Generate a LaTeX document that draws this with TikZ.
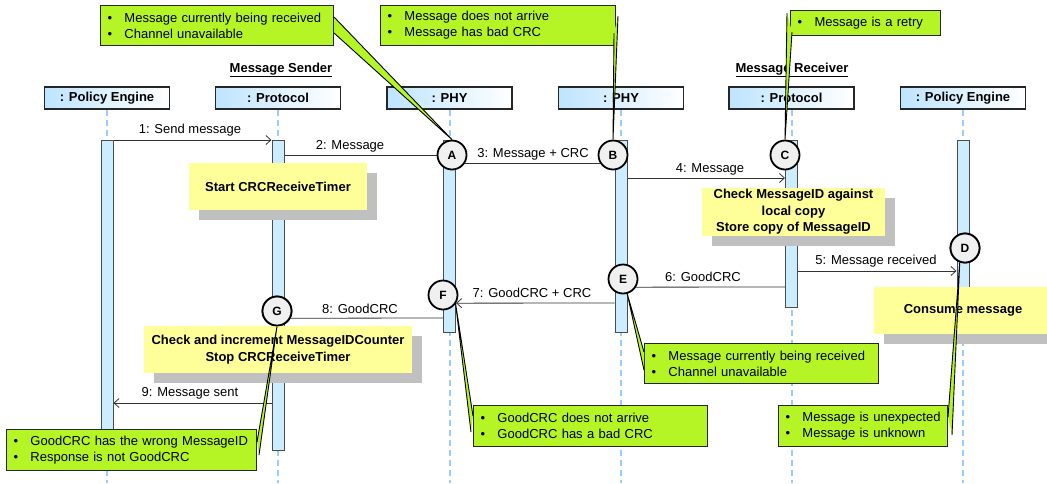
\documentclass[tikz,border=0pt]{standalone}
\usepackage{fontspec}
\setmainfont{Liberation Sans}
\usetikzlibrary{arrows.meta,shadows,calc}
\definecolor{notegreen}{RGB}{181,245,38}
\definecolor{noteyellow}{RGB}{255,255,153}
\definecolor{shadowgray}{RGB}{192,192,192}
\definecolor{barblue}{RGB}{204,236,255}
\definecolor{lifeblue}{RGB}{153,204,255}
\definecolor{hdrblue}{RGB}{190,228,255}
\definecolor{circgray}{RGB}{240,240,240}
\newcommand\gbul{\makebox[17pt][l]{\textbullet}}
\begin{document}
\begin{tikzpicture}[x=1pt,y=-1pt,
  every node/.style={font=\fontsize{13}{16}\selectfont},
  hdr/.style={draw=black!85, line width=1.2pt, left color=hdrblue, right color=white,
    minimum width=125pt, minimum height=22pt, inner sep=0pt,
    font=\bfseries\fontsize{13}{16}\selectfont},
  grouptitle/.style={inner sep=0pt, font=\bfseries\fontsize{13}{16}\selectfont},
  lifeline/.style={lifeblue, line width=2pt, dash pattern=on 6pt off 4pt},
  actbar/.style={draw=black!70, line width=1pt, fill=barblue, minimum width=12pt,
    inner sep=0pt, anchor=north},
  msg/.style={black!80, line width=0.8pt},
  arr/.style={msg, -{Straight Barb[length=5pt,width=9pt]}},
  mlabel/.style={inner sep=0pt},
  ynote/.style={fill=noteyellow, inner sep=0pt, align=center,
    font=\bfseries\fontsize{13}{16.5}\selectfont,
    drop shadow={shadow xshift=10pt, shadow yshift=-10pt, fill=shadowgray, opacity=1}},
  circ/.style={circle, draw=black, line width=1.8pt, fill=circgray, minimum size=29pt,
    inner sep=0pt, font=\bfseries\fontsize{12}{14}\selectfont},
  gnote/.style={draw=black!85, line width=1pt, fill=notegreen, anchor=north west,
    inner xsep=7pt, inner ysep=0pt, align=left},
  pointer/.style={draw=black, line width=0.9pt, line join=miter}
]
\useasboundingbox (0,0) rectangle (1047,483);
\coordinate (bot) at (0,483);

% headers
\node[hdr] (h1) at (107,98) {: Policy Engine};
\node[hdr] (h2) at (278,98) {: Protocol};
\node[hdr] (h3) at (449.5,98) {: PHY};
\node[hdr] (h4) at (621,98) {: PHY};
\node[hdr] (h5) at (791.5,98) {: Protocol};
\node[hdr] (h6) at (963,98) {: Policy Engine};
\node[grouptitle] (ts) at (281,70) {\underline{Message Sender}};
\node[grouptitle] (tr) at (792,70) {\underline{Message Receiver}};

% lifelines
\foreach \h in {h1,h2,h3,h4,h5,h6}
  \draw[lifeline] (\h.south) -- (\h.south |- bot);

% activation bars
\node[actbar, minimum height=300pt] (b1) at (107,140) {};
\node[actbar, minimum height=310pt] (b2) at (278,140) {};
\node[actbar, minimum height=192pt] (b3) at (449.5,140) {};
\node[actbar, minimum height=192pt] (b4) at (621,140) {};
\node[actbar, minimum height=167pt] (b5) at (791.5,140) {};
\node[actbar, minimum height=160pt] (b6) at (963,140) {};

% circles
\node[circ] (A) at (452,155) {A};
\node[circ] (B) at (613,155) {B};
\node[circ] (C) at (785,155) {C};
\node[circ] (D) at (965,248) {D};
\node[circ] (E) at (623,279) {E};
\node[circ] (F) at (443,295) {F};
\node[circ] (G) at (277,311) {G};

% messages
\draw[arr] (b1.north east) -- (b2.north west);
\node[mlabel] (l1) at (190,130) {1: Send message};
\draw[msg] ([yshift=-15pt]b2.north east) -- (A);
\node[mlabel] (l2) at (350,146) {2: Message};
\draw[msg] (A.-32) -- (B.212);
\node[mlabel] (l3) at (533,154) {3: Message + CRC};
\draw[arr] ([yshift=-38pt]b4.north east) -- ([yshift=-38pt]b5.north west);
\node[mlabel] (l4) at (710,169) {4: Message};
\draw[arr] ([yshift=-131pt]b5.north east) -- ([yshift=-131pt]b6.north west);
\node[mlabel] (l5) at (876,261) {5: Message received};
\draw[msg] ([yshift=-147pt]b5.north west) -- (E.-32);
\node[mlabel] (l6) at (703,277) {6: GoodCRC};
\draw[arr] ([yshift=-163pt]b4.north west) -- (F.-32);
\node[mlabel] (l7) at (532,293) {7: GoodCRC + CRC};
\draw[msg] ([yshift=-178pt]b3.north west) -- (G.-28);
\node[mlabel] (l8) at (360,309) {8: GoodCRC};
\draw[arr] ([yshift=-263pt]b2.north west) -- ([yshift=-263pt]b1.north east);
\node[mlabel] (l9) at (190,393) {9: Message sent};

% yellow notes
\node[ynote, minimum width=178pt, minimum height=47pt] (y1) at (278,186.5) {Start CRCReceiveTimer};
\node[ynote, minimum width=183pt, minimum height=48pt] (y2) at (793.5,212) {Check MessageID against\\local copy\\Store copy of MessageID};
\node[ynote, minimum width=178pt, minimum height=47pt] (y3) at (963,310) {Consume message};
\node[ynote, minimum width=268pt, minimum height=47pt] (y4) at (278,349.5) {Check and increment MessageIDCounter\\Stop CRCReceiveTimer};

% circles redrawn on top of notes where needed
\node[circ] at (G) {G};
\node[circ] at (D) {D};

% green notes
\node[gnote, text width=219pt, minimum height=40pt] (g1) at (100,5)
  {\mbox{\gbul Message currently being received}\\\mbox{\gbul Channel unavailable}};
\node[gnote, text width=221pt, minimum height=40pt] (g2) at (380,5)
  {\mbox{\gbul Message does not arrive}\\\mbox{\gbul Message has bad CRC}};
\node[gnote, text width=136pt, minimum height=25pt] (g3) at (790,10)
  {\mbox{\gbul Message is a retry}};
\node[gnote, text width=220pt, minimum height=40pt] (g4) at (644,343)
  {\mbox{\gbul Message currently being received}\\\mbox{\gbul Channel unavailable}};
\node[gnote, text width=220pt, minimum height=41pt] (g5) at (473,405)
  {\mbox{\gbul GoodCRC does not arrive}\\\mbox{\gbul GoodCRC has a bad CRC}};
\node[gnote, text width=236pt, minimum height=41pt] (g6) at (6,429)
  {\mbox{\gbul GoodCRC has the wrong MessageID}\\\mbox{\gbul Response is not GoodCRC}};
\node[gnote, text width=155pt, minimum height=41pt] (g7) at (778,405)
  {\mbox{\gbul Message is unexpected}\\\mbox{\gbul Message is unknown}};

% callout pointers
\coordinate (p1a) at ([yshift=-12pt]g1.north east);
\coordinate (p1b) at ([yshift=-28pt]g1.north east);
\fill[notegreen] (p1a) -- (A.north) -- (p1b) -- cycle;
\draw[pointer] (p1a) -- (A.north) -- (p1b);

\coordinate (p2a) at ([xshift=2pt,yshift=-11pt]g2.north east);
\coordinate (p2b) at ([xshift=-2pt,yshift=-28pt]g2.north east);
\fill[notegreen] (p2a) -- (B.north) -- (p2b) -- cycle;
\draw[pointer] (p2a) -- (B.north) -- (p2b);

\coordinate (p3a) at ([xshift=-3pt,yshift=-3pt]g3.north west);
\coordinate (p3b) at ([xshift=2pt,yshift=-22pt]g3.north west);
\fill[notegreen] (p3a) -- (C.north) -- (p3b) -- cycle;
\draw[pointer] (p3a) -- (C.north) -- (p3b);

\coordinate (p4a) at ([yshift=-9pt]g4.north west);
\coordinate (p4b) at ([yshift=-27pt]g4.north west);
\fill[notegreen] (p4a) -- (E.286) -- (p4b) -- cycle;
\draw[pointer] (p4a) -- (E.286) -- (p4b);

\coordinate (p5a) at ([yshift=-11pt]g5.north west);
\coordinate (p5b) at ([xshift=-2pt,yshift=-27pt]g5.north west);
\fill[notegreen] (p5a) -- (F.325) -- (p5b) -- cycle;
\draw[pointer] (p5a) -- (F.325) -- (p5b);

\coordinate (p6a) at ([yshift=-13pt]g6.north east);
\coordinate (p6b) at ([xshift=2pt,yshift=-26pt]g6.north east);
\fill[notegreen] (p6a) -- (G.south) -- (p6b) -- cycle;
\draw[pointer] (p6a) -- (G.south) -- (p6b);

\coordinate (p7a) at ([yshift=-12pt]g7.north east);
\coordinate (p7b) at ([xshift=4pt,yshift=-30pt]g7.north east);
\fill[notegreen] (p7a) -- (D.250) -- (p7b) -- cycle;
\draw[pointer] (p7a) -- (D.250) -- (p7b);
\end{tikzpicture}
\end{document}
